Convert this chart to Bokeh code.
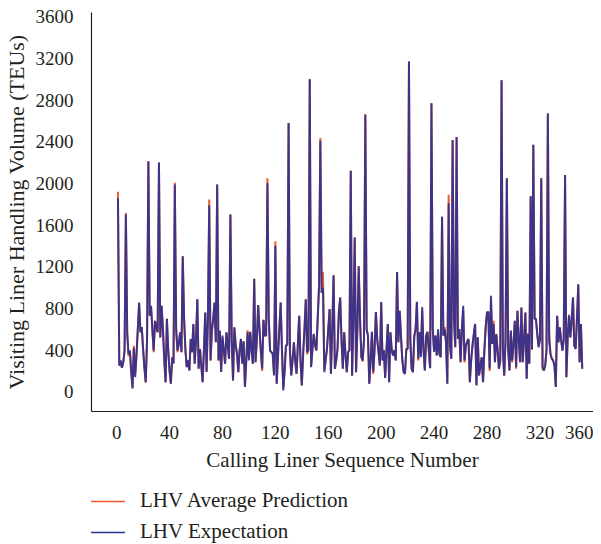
from bokeh.plotting import figure
from bokeh.layouts import column
from bokeh.models import Legend, LegendItem, FixedTicker, Range1d
from bokeh.embed import file_html
from bokeh.resources import INLINE

x_ticks = [0, 40, 80, 120, 160, 200, 240, 280, 320, 360]
y_ticks = [0, 400, 800, 1200, 1600, 2000, 2400, 2800, 3200, 3600]

expectation = [
    1860, 250, 300, 230, 280, 400, 1700, 560, 360, 395,
    200, 30, 420, 140, 350, 600, 856, 570, 620, 410,
    230, 90, 500, 2210, 730, 825, 600, 395, 680, 620,
    570, 2200, 520, 825, 600, 300, 90, 700, 400, 200,
    76, 330, 270, 1990, 600, 395, 460, 570, 380, 1300,
    700, 400, 236, 300, 204, 506, 380, 650, 268, 500,
    888, 220, 410, 250, 92, 400, 760, 190, 700, 1790,
    300, 586, 700, 856, 474, 1990, 300, 586, 190, 538,
    400, 268, 570, 450, 316, 1700, 500, 108, 618, 450,
    363, 188, 400, 506, 268, 484, 45, 300, 570, 300,
    576, 400, 268, 1085, 284, 500, 831, 600, 395, 220,
    691, 538, 540, 2000, 700, 395, 380, 363, 156, 1400,
    76, 347, 600, 856, 400, 13, 200, 442, 450, 2580,
    400, 156, 300, 474, 300, 172, 450, 729, 300, 61,
    363, 600, 888, 379, 400, 3000, 236, 400, 554, 450,
    395, 700, 1005, 2410, 950, 1000, 188, 300, 410, 600,
    793, 172, 600, 1117, 220, 300, 410, 761, 904, 500,
    220, 570, 363, 188, 379, 400, 2120, 156, 700, 1480,
    188, 600, 1205, 700, 331, 300, 500, 2660, 600, 538,
    76, 300, 576, 188, 400, 765, 500, 379, 252, 862,
    300, 400, 131, 400, 650, 92, 570, 395, 347, 400,
    300, 1150, 474, 777, 522, 300, 188, 172, 410, 410,
    3170, 500, 220, 188, 538, 600, 862, 316, 570, 331,
    812, 400, 204, 538, 576, 400, 226, 2770, 600, 385,
    538, 347, 600, 363, 331, 1680, 538, 600, 474, 76,
    1810, 442, 316, 2415, 700, 426, 2445, 506, 601, 284,
    600, 825, 300, 442, 480, 506, 92, 300, 442, 550,
    650, 61, 522, 156, 250, 331, 92, 400, 620, 761,
    765, 220, 920, 458, 650, 284, 554, 400, 220, 300,
    2990, 400, 156, 500, 2050, 400, 204, 586, 300, 450,
    681, 236, 777, 500, 284, 809, 284, 500, 761, 124,
    554, 268, 1875, 410, 2370, 700, 697, 550, 426, 500,
    2050, 236, 204, 252, 400, 2670, 480, 363, 316, 300,
    252, 45, 729, 474, 618, 500, 395, 500, 2080, 140,
    522, 729, 522, 700, 904, 442, 410, 700, 1030, 284,
    650, 220,
]

prediction = [
    1920, 260, 300, 230, 280, 400, 1715, 560, 340, 395,
    200, 40, 440, 160, 350, 600, 850, 570, 620, 410,
    230, 90, 500, 2215, 730, 820, 600, 380, 680, 620,
    570, 2200, 520, 825, 600, 330, 90, 700, 400, 200,
    80, 330, 270, 2005, 600, 380, 460, 570, 380, 1300,
    700, 400, 236, 300, 204, 506, 380, 650, 268, 500,
    888, 220, 410, 250, 92, 400, 760, 190, 700, 1845,
    300, 586, 700, 856, 474, 1990, 300, 586, 190, 520,
    400, 268, 570, 450, 316, 1700, 500, 108, 618, 450,
    363, 188, 400, 506, 268, 484, 45, 300, 590, 320,
    576, 400, 268, 1085, 284, 500, 831, 600, 395, 200,
    691, 538, 540, 2050, 700, 395, 380, 363, 170, 1445,
    76, 347, 600, 856, 400, 40, 200, 442, 450, 2580,
    400, 156, 300, 474, 300, 172, 450, 729, 300, 61,
    363, 600, 888, 360, 400, 3000, 236, 400, 554, 450,
    395, 700, 1005, 2435, 950, 1146, 210, 300, 410, 600,
    793, 172, 600, 1117, 220, 300, 410, 761, 904, 500,
    220, 570, 363, 188, 379, 400, 2120, 150, 700, 1480,
    188, 600, 1205, 700, 331, 290, 500, 2660, 600, 538,
    76, 300, 576, 170, 420, 765, 500, 379, 252, 862,
    300, 400, 131, 400, 650, 92, 570, 395, 347, 400,
    300, 1150, 474, 777, 522, 300, 188, 172, 410, 410,
    3170, 500, 220, 188, 520, 600, 862, 300, 570, 360,
    780, 400, 204, 538, 576, 380, 226, 2770, 600, 385,
    538, 347, 560, 363, 331, 1680, 538, 620, 480, 76,
    1890, 442, 316, 2415, 700, 426, 2445, 506, 601, 284,
    600, 780, 280, 442, 480, 506, 92, 300, 442, 550,
    650, 61, 522, 156, 250, 331, 92, 400, 620, 761,
    765, 200, 880, 458, 680, 284, 554, 400, 220, 300,
    2990, 400, 150, 500, 2050, 400, 204, 586, 280, 450,
    681, 220, 777, 500, 284, 809, 284, 500, 761, 124,
    560, 268, 1875, 400, 2370, 700, 697, 550, 440, 500,
    2050, 220, 204, 252, 400, 2670, 560, 363, 316, 300,
    252, 45, 729, 474, 618, 500, 395, 500, 2080, 140,
    530, 740, 522, 650, 904, 442, 410, 700, 1030, 284,
    650, 220,
]

seq = list(range(1, len(expectation) + 1))

FONT = "Liberation Serif"
TXT = "#231f20"
RED = "#F15A29"
BLUE = "#2E3192"

p = figure(width=593, height=474, output_backend="svg", toolbar_location=None,
           x_range=Range1d(-19, 360.5), y_range=Range1d(-190, 3640),
           min_border_left=84, min_border_top=12, min_border_right=0,
           min_border_bottom=62)
p.outline_line_color = None
p.grid.visible = False

r_pred = p.line(seq, prediction, line_color=RED, line_width=2)
r_exp = p.line(seq, expectation, line_color=BLUE, line_width=2, line_alpha=0.92)

for ax, ticks in ((p.xaxis, x_ticks), (p.yaxis, y_ticks)):
    ax.ticker = FixedTicker(ticks=ticks)
    ax.major_tick_line_color = None
    ax.minor_tick_line_color = None
    ax.axis_line_color = TXT
    ax.axis_line_width = 1.2
    ax.major_label_text_font = FONT
    ax.major_label_text_font_size = "19px"
    ax.major_label_text_color = TXT
    ax.axis_label_text_font = FONT
    ax.axis_label_text_font_style = "normal"
    ax.axis_label_text_color = TXT

p.xaxis.axis_label_text_font_size = "21px"
p.yaxis.axis_label_text_font_size = "22px"
p.xaxis.axis_label = "Calling Liner Sequence Number"
p.yaxis.axis_label = "Visiting Liner Handling Volume (TEUs)"
p.xaxis.major_label_standoff = 8
p.xaxis.axis_label_standoff = 6
p.yaxis.major_label_standoff = 12
p.yaxis.axis_label_standoff = 4

# legend panel below the chart
lg = figure(width=593, height=70, output_backend="svg", toolbar_location=None,
            x_range=Range1d(0, 1), y_range=Range1d(0, 1),
            min_border_left=84, min_border_top=0, min_border_right=0,
            min_border_bottom=0, x_axis_type=None, y_axis_type=None)
lg.outline_line_color = None
lg.grid.visible = False
g_pred = lg.line(x=[5, 6], y=[5, 6], line_color=RED, line_width=1.6)
g_exp = lg.line(x=[5, 6], y=[5, 6], line_color=BLUE, line_width=1.6)

legend = Legend(items=[LegendItem(label="LHV Average Prediction", renderers=[g_pred]),
                       LegendItem(label="LHV Expectation", renderers=[g_exp])],
                location=(-2, 0), orientation="vertical")
legend.border_line_color = None
legend.background_fill_alpha = 0
legend.label_text_font = FONT
legend.label_text_font_size = "21px"
legend.label_text_color = TXT
legend.glyph_width = 36
legend.glyph_height = 22
legend.label_height = 22
legend.label_standoff = 15
legend.spacing = 6
legend.padding = 0
legend.margin = 0
lg.add_layout(legend, "center")

open("out.html", "w").write(file_html(column(p, lg, spacing=0), INLINE))
